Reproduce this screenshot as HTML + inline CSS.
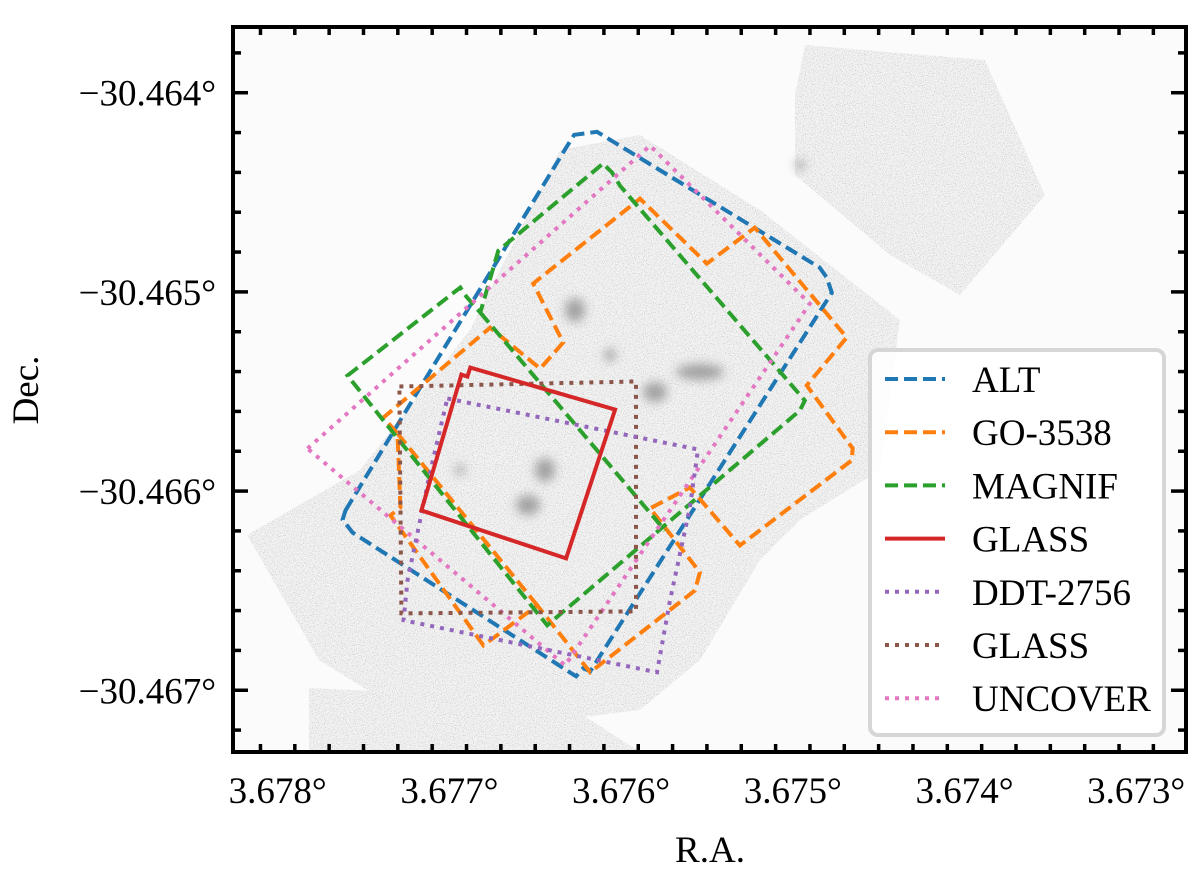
<!DOCTYPE html>
<html><head><meta charset="utf-8"><style>
html,body{margin:0;padding:0;background:#fff;}
svg{display:block;}
text{font-family:"Liberation Serif","DejaVu Serif",serif;fill:#000;}
</style></head><body>
<svg id="chart" width="1200" height="879" viewBox="0 0 1200 879" xmlns="http://www.w3.org/2000/svg">
<defs>
<clipPath id="plotclip"><rect x="233" y="27" width="953" height="725"/></clipPath>
<filter id="noise" x="0" y="0" width="100%" height="100%">
<feTurbulence type="fractalNoise" baseFrequency="0.9" numOctaves="1" seed="3" result="t"/>
<feColorMatrix type="matrix" values="0 0 0 0 0.4  0 0 0 0 0.4  0 0 0 0 0.4  0 0 0 -3 1.55" in="t" result="c"/>
<feComposite operator="in" in="c" in2="SourceGraphic"/>
</filter>
<filter id="blur4"><feGaussianBlur stdDeviation="5"/></filter>
</defs>
<rect x="233" y="27" width="953" height="725" fill="#fbfbfb"/>
<g id="field" clip-path="url(#plotclip)">
<g fill="#f3f3f3">
<polygon points="247,535 360,470 470,330 560,150 640,135 760,210 900,320 880,470 800,520 760,560 700,660 640,710 560,720 480,700 372,693 319,660"/>
<polygon points="795,95 805,45 985,60 1045,195 960,295 890,255 795,175"/>
<polygon points="309,688 560,700 640,752 309,752"/>
</g>
<g filter="url(#noise)" fill="#fff" opacity="0.6">
<polygon points="247,535 360,470 470,330 560,150 640,135 760,210 900,320 880,470 800,520 760,560 700,660 640,710 560,720 480,700 372,693 319,660"/>
<polygon points="795,95 805,45 985,60 1045,195 960,295 890,255 795,175"/>
<polygon points="309,688 560,700 640,752 309,752"/>
</g>
<g fill="#8a8a8a" filter="url(#blur4)" opacity="0.75">
<ellipse cx="575" cy="310" rx="10" ry="12"/>
<ellipse cx="700" cy="372" rx="24" ry="8"/>
<ellipse cx="655" cy="392" rx="12" ry="10"/>
<ellipse cx="545" cy="470" rx="10" ry="12"/>
<ellipse cx="528" cy="505" rx="12" ry="10"/>
<ellipse cx="610" cy="355" rx="6" ry="6"/>
<ellipse cx="800" cy="165" rx="5" ry="5"/>
<ellipse cx="460" cy="470" rx="5" ry="5"/>
</g>
</g>
<g id="footprints" clip-path="url(#plotclip)"></g>
<g id="axes"></g>
<text x="38" y="390" font-size="37" text-anchor="middle" transform="rotate(-90 38 390)">Dec.</text>
<text x="710" y="862" font-size="37" text-anchor="middle">R.A.</text>
<g id="legend">
<rect x="870" y="350" width="294" height="385" rx="8" fill="#fff" fill-opacity="0.85" stroke="#d6d6d6" stroke-width="4"/>
</g>
</svg>
<script>
// ---- axis calibration
const xMin = 3.67826, xMax = 3.67271;   // R.A. decreasing to the right
const yMax = -30.46367, yMin = -30.46731;
const PX0 = 233, PX1 = 1186, PY0 = 27, PY1 = 752;
function sx(ra){ return PX0 + (xMin - ra) / (xMin - xMax) * (PX1 - PX0); }
function sy(dec){ return PY0 + (yMax - dec) / (yMax - yMin) * (PY1 - PY0); }

// ---- data (R.A., Dec. in degrees)
const seriesNames = ["ALT","GO-3538","MAGNIF","GLASS","DDT-2756","GLASS","UNCOVER"];
const seriesColors = ["#1f77b4","#ff7f0e","#2ca02c","#d62728","#9467bd","#8c564b","#e377c2"];
const seriesDash = ["13,6","13,6","13,6","none","4,6","4,6","4,6"];

const altRA  = [3.677605,3.67632,3.676273,3.67614,3.674843,3.674802,3.674773,3.67618,3.676221,3.676262,3.677564,3.677622];
const altDec = [-30.466097,-30.464276,-30.464211,-30.464196,-30.464878,-30.464928,-30.465004,-30.466905,-30.46689,-30.46693,-30.466208,-30.466143];

const goRA  = [3.676802,3.677343,3.677285,3.677302,3.677384,3.676762,3.676471,3.676337,3.676512,3.67589,3.6755,3.675221,3.674686,3.674919,3.674884,3.674651,3.674657,3.675308,3.675599,3.675831,3.675541,3.67557,3.67618,3.676488];
const goDec = [-30.466775,-30.466122,-30.466082,-30.465711,-30.465631,-30.465179,-30.465385,-30.465254,-30.464958,-30.464532,-30.464858,-30.464677,-30.465229,-30.46547,-30.46551,-30.465786,-30.465846,-30.466273,-30.465982,-30.466087,-30.466408,-30.466499,-30.46691,-30.466574];
const goInnerRA  = [3.677302,3.676488];
const goInnerDec = [-30.465711,-30.466574];

const magRA  = [3.677593,3.676936,3.676901,3.67682,3.676715,3.676105,3.676052,3.676006,3.67493,3.674959,3.67643];
const magDec = [-30.46542,-30.464978,-30.465024,-30.465104,-30.464793,-30.464356,-30.464401,-30.464467,-30.465545,-30.465596,-30.466674];
const magInnerRA  = [3.67682,3.675744];
const magInnerDec = [-30.465104,-30.466198];

const glassRA  = [3.677163,3.67693,3.676895,3.676878,3.676035,3.67632];
const glassDec = [-30.466097,-30.465415,-30.465425,-30.46538,-30.465591,-30.466338];

const ddtRA  = [3.677012,3.675552,3.675599,3.675715,3.675791,3.677267,3.677244,3.67711];
const ddtDec = [-30.465535,-30.465791,-30.466082,-30.466549,-30.46691,-30.466649,-30.466449,-30.465897];

const glass2RA  = [3.677291,3.675913,3.675913,3.677279];
const glass2Dec = [-30.465475,-30.46545,-30.466604,-30.466614];

const uncRA  = [3.677826,3.675831,3.674901,3.676326];
const uncDec = [-30.465786,-30.464266,-30.465059,-30.466875];

const xTicks = [3.678,3.677,3.676,3.675,3.674,3.673];
const xTickLabels = ["3.678°","3.677°","3.676°","3.675°","3.674°","3.673°"];
const yTicks = [-30.464,-30.465,-30.466,-30.467];
const yTickLabels = ["−30.464°","−30.465°","−30.466°","−30.467°"];

const NS = "http://www.w3.org/2000/svg";
function pathFrom(ra, dec, close){
  let d = "";
  for (let i = 0; i < ra.length; i++) d += (i ? "L" : "M") + sx(ra[i]).toFixed(1) + "," + sy(dec[i]).toFixed(1);
  return d + (close ? "Z" : "");
}
const fp = document.getElementById("footprints");
const shapes = [
  {i:0, d: pathFrom(altRA, altDec, true), name:"alt-footprint"},
  {i:1, d: pathFrom(goRA, goDec, true) + pathFrom(goInnerRA, goInnerDec, false), name:"go-3538-footprint"},
  {i:2, d: pathFrom(magRA, magDec, true) + pathFrom(magInnerRA, magInnerDec, false), name:"magnif-footprint"},
  {i:6, d: pathFrom(uncRA, uncDec, true), name:"uncover-footprint"},
  {i:5, d: pathFrom(glass2RA, glass2Dec, true), name:"glass-niriss-footprint"},
  {i:4, d: pathFrom(ddtRA, ddtDec, true), name:"ddt-2756-footprint"},
  {i:3, d: pathFrom(glassRA, glassDec, true), name:"glass-footprint"}
];
shapes.forEach(s => {
  const p = document.createElementNS(NS, "path");
  p.setAttribute("d", s.d);
  p.setAttribute("fill", "none");
  p.setAttribute("stroke", seriesColors[s.i]);
  p.setAttribute("stroke-width", "4");
  if (seriesDash[s.i] !== "none") p.setAttribute("stroke-dasharray", seriesDash[s.i]);
  p.setAttribute("stroke-linejoin", "miter");
  
  
  fp.appendChild(p);
});

// ---- axes
const ax = document.getElementById("axes");
function line(x1,y1,x2,y2,w){
  const l = document.createElementNS(NS, "line");
  l.setAttribute("x1",x1); l.setAttribute("y1",y1); l.setAttribute("x2",x2); l.setAttribute("y2",y2);
  l.setAttribute("stroke","#000"); l.setAttribute("stroke-width",w);
  return l;
}
const frame = document.createElementNS(NS, "rect");
frame.setAttribute("x", PX0); frame.setAttribute("y", PY0);
frame.setAttribute("width", PX1-PX0); frame.setAttribute("height", PY1-PY0);
frame.setAttribute("fill","none"); frame.setAttribute("stroke","#000"); frame.setAttribute("stroke-width","4");


ax.appendChild(frame);
for (let k = 0; k <= 30; k++){
  const v = 3.6783 - k*0.0002;
  const x = sx(v);
  if (x < PX0+1 || x > PX1-1) continue;
  const major = Math.abs(Math.round(v*1000) - v*1000) < 1e-6;
  const L = major ? 15 : 8;
  const t1 = line(x, PY1, x, PY1-L, 3.5);
  
  
  ax.appendChild(t1);
  const t2 = line(x, PY0, x, PY0+L, 3.5);
  
  
  ax.appendChild(t2);
}
for (let k = 0; k <= 25; k++){
  const v = -30.4636 - k*0.0002;
  const y = sy(v);
  if (y < PY0+1 || y > PY1-1) continue;
  const major = Math.abs(Math.round(v*1000) - v*1000) < 1e-6;
  const L = major ? 15 : 8;
  const t1 = line(PX0, y, PX0+L, y, 3.5);
  
  
  ax.appendChild(t1);
  const t2 = line(PX1, y, PX1-L, y, 3.5);
  
  
  ax.appendChild(t2);
}
xTicks.forEach((v,i) => {
  const t = document.createElementNS(NS, "text");
  t.setAttribute("x", sx(v)); t.setAttribute("y", 803);
  t.setAttribute("font-size","37"); t.setAttribute("text-anchor","middle");
  t.textContent = xTickLabels[i];
  
  
  ax.appendChild(t);
});
yTicks.forEach((v,i) => {
  const t = document.createElementNS(NS, "text");
  t.setAttribute("x", 216); t.setAttribute("y", sy(v)+13);
  t.setAttribute("font-size","37"); t.setAttribute("text-anchor","end");
  t.textContent = yTickLabels[i];
  
  
  ax.appendChild(t);
});

// ---- legend
const lg = document.getElementById("legend");
seriesNames.forEach((n,i) => {
  const y = 379 + i*53.2;
  const l = line(885, y, 945, y, 4);
  l.setAttribute("stroke", seriesColors[i]);
  if (seriesDash[i] !== "none") l.setAttribute("stroke-dasharray", seriesDash[i]);
  
  
  lg.appendChild(l);
  const t = document.createElementNS(NS, "text");
  t.setAttribute("x", 972); t.setAttribute("y", y+13);
  t.setAttribute("font-size","37");
  t.textContent = n;
  
  
  lg.appendChild(t);
});
</script>
</body></html>
